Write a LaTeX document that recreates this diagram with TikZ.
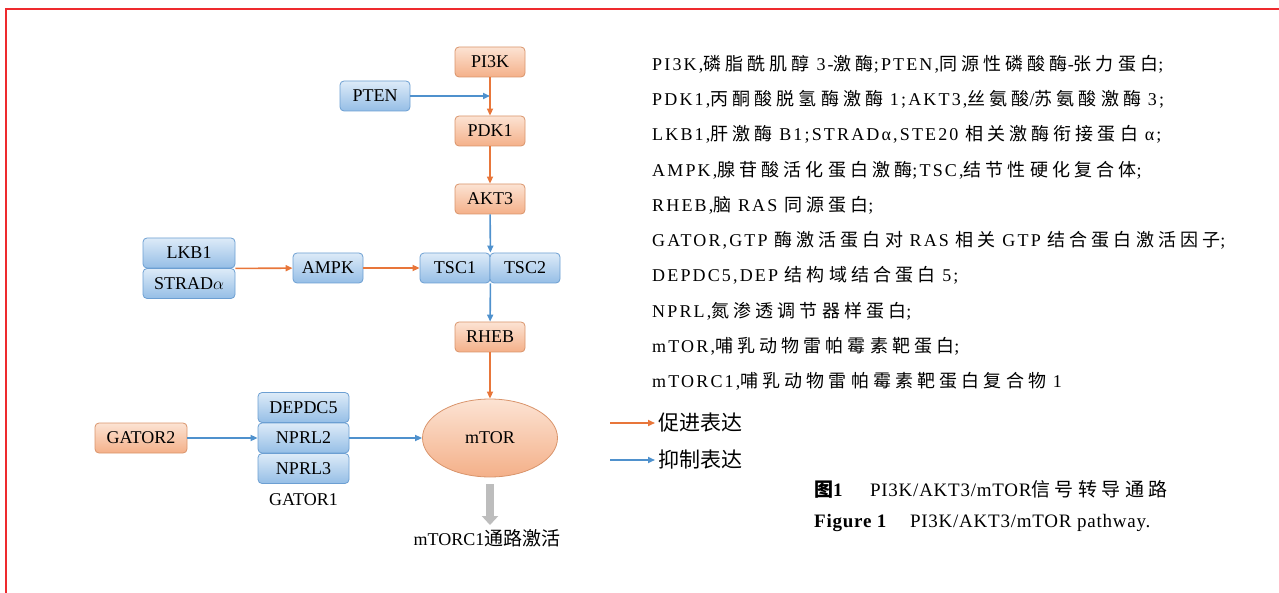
\documentclass[tikz,border=0pt]{standalone}
\usepackage{fontspec}
\setmainfont{Liberation Serif}
\newfontfamily\zhfont{Noto Sans CJK SC}
\newfontfamily\zhnote[LetterSpace=23]{Noto Sans CJK SC}
\newfontfamily\notelatin[LetterSpace=12]{Liberation Serif}
\newfontfamily\caplatin[LetterSpace=4]{Liberation Serif}
\usetikzlibrary{arrows.meta}
\usetikzlibrary{shapes.geometric}

\definecolor{upline}{HTML}{E8763A}
\definecolor{downline}{HTML}{4F91CD}
\definecolor{uptop}{HTML}{FCE3D3}
\definecolor{upbottom}{HTML}{F4B089}
\definecolor{updraw}{HTML}{D9946B}
\definecolor{downtop}{HTML}{DDEBF8}
\definecolor{downbottom}{HTML}{95BEE6}
\definecolor{downdraw}{HTML}{6C9FD2}
\definecolor{framered}{HTML}{EE2A2E}
\definecolor{grayarrow}{HTML}{BDBDBD}

\newcommand{\zh}[1]{{\zhnote #1}}

\begin{document}
\begin{tikzpicture}[x=1pt, y=-1pt, font=\fontsize{18}{20}\selectfont]
	\tikzstyle{boxStyle}=[rectangle, rounded corners=4pt, minimum height=30pt, minimum width=70pt, inner sep=0pt, line width=0.8pt]
	\tikzstyle{upStyle}=[boxStyle, draw=updraw, top color=uptop, bottom color=upbottom]
	\tikzstyle{downStyle}=[boxStyle, draw=downdraw, top color=downtop, bottom color=downbottom]
	\tikzstyle{upEdge}=[draw=upline, line width=1.6pt, -{Triangle[length=7pt,width=6pt]}]
	\tikzstyle{downEdge}=[draw=downline, line width=1.6pt, -{Triangle[length=7pt,width=6pt]}]
	\tikzstyle{noteStyle}=[anchor=west, inner sep=0pt, font=\fontsize{18}{20}\notelatin]
	\tikzstyle{legendStyle}=[anchor=west, font=\fontsize{21}{23}\zhfont]
	\useasboundingbox (0,0) rectangle (1279,593);
	\draw[framered, line width=2.5pt] (6,593) -- (6,9) -- (1279,9);

	\node[upStyle] (pi3k) at (490,62) {PI3K};
	\node[downStyle] (pten) at (375,96) {PTEN};
	\node[upStyle] (pdk1) at (490,131) {PDK1};
	\node[upStyle] (akt3) at (490,199) {AKT3};
	\node[downStyle, minimum width=92pt] (lkb1) at (189,253) {LKB1};
	\node[downStyle, minimum width=92pt] (strad) at (189,283.5) {STRAD$\alpha$};
	\node[downStyle] (ampk) at (328,268) {AMPK};
	\node[downStyle] (tsc1) at (455,268) {TSC1};
	\node[downStyle] (tsc2) at (525,268) {TSC2};
	\node[upStyle] (rheb) at (490,337) {RHEB};
	\node[ellipse, draw=updraw, line width=0.8pt, top color=uptop, bottom color=upbottom, minimum width=135pt, minimum height=78pt, inner sep=0pt] (mtor) at (490,438) {mTOR};
	\node[upStyle, minimum width=92pt] (gator2) at (141,438) {GATOR2};
	\node[downStyle, minimum width=91pt] (depdc5) at (303.5,407.5) {DEPDC5};
	\node[downStyle, minimum width=91pt] (nprl2) at (303.5,438) {NPRL2};
	\node[downStyle, minimum width=91pt] (nprl3) at (303.5,468.5) {NPRL3};
	\node[inner sep=0pt] (gator1) at (303.5,500) {GATOR1};
	\node[inner sep=0pt] (mtorc1) at (487,538) {mTORC1{\fontsize{19}{20}\zhfont 通路激活}};
	\coordinate (ptenhit) at (pi3k.south |- pten.east);

	\draw[downEdge] (pten) -- (ptenhit);
	\draw[upEdge] (pi3k) -- (pdk1);
	\draw[upEdge] (pdk1) -- (akt3);
	\draw[downEdge] (akt3) -- (tsc1.north east);
	\draw[upEdge] (lkb1.south east) -- (ampk);
	\draw[upEdge] (ampk) -- (tsc1);
	\draw[downEdge] (tsc1.south east) -- (rheb);
	\draw[upEdge] (rheb) -- (mtor);
	\draw[downEdge] (gator2) -- (nprl2);
	\draw[downEdge] (nprl2) -- (mtor);
	\draw[grayarrow, line width=8pt, -{Triangle[length=9pt,width=16pt]}, shorten <=7pt, shorten >=4pt] (mtor.south) -- (mtor.south |- mtorc1.north);

	\coordinate (upfrom) at (610,423);
	\coordinate (downfrom) at (610,460);
	\node[legendStyle] (uplabel) at (655,423) {促进表达};
	\node[legendStyle] (downlabel) at (655,460) {抑制表达};
	\draw[upEdge] (upfrom) -- (uplabel);
	\draw[downEdge] (downfrom) -- (downlabel);

	\node[noteStyle] (note1) at (652,64) {PI3K,\zh{磷脂酰肌醇} 3-\zh{激酶};PTEN,\zh{同源性磷酸酶}-\zh{张力蛋白};};
	\node[noteStyle] (note2) at (652,99) {PDK1,\zh{丙酮酸脱氢酶激酶} 1;AKT3,\zh{丝氨酸}/\zh{苏氨酸激酶} 3;};
	\node[noteStyle] (note3) at (652,134) {LKB1,\zh{肝激酶} B1;STRADα,STE20 \zh{相关激酶衔接蛋白} α;};
	\node[noteStyle] (note4) at (652,170) {AMPK,\zh{腺苷酸活化蛋白激酶};TSC,\zh{结节性硬化复合体};};
	\node[noteStyle] (note5) at (652,205) {RHEB,\zh{脑} RAS \zh{同源蛋白};};
	\node[noteStyle] (note6) at (652,240) {GATOR,GTP \zh{酶激活蛋白对} RAS \zh{相关} GTP \zh{结合蛋白激活因子};};
	\node[noteStyle] (note7) at (652,275) {DEPDC5,DEP \zh{结构域结合蛋白} 5;};
	\node[noteStyle] (note8) at (652,311) {NPRL,\zh{氮渗透调节器样蛋白};};
	\node[noteStyle] (note9) at (652,346) {mTOR,\zh{哺乳动物雷帕霉素靶蛋白};};
	\node[noteStyle] (note10) at (652,381) {mTORC1,\zh{哺乳动物雷帕霉素靶蛋白复合物} 1};

	\node[noteStyle, font=\fontsize{19}{21}\caplatin] (capzh) at (814,489) {{\zhfont\bfseries 图}\textbf{1}\hspace{1.4em}PI3K/AKT3/mTOR\zh{信号转导通路}};
	\node[noteStyle, font=\fontsize{19}{21}\caplatin] (capen) at (814,523) {\textbf{Figure 1}\hspace{1.2em}PI3K/AKT3/mTOR pathway.};
\end{tikzpicture}
\end{document}
